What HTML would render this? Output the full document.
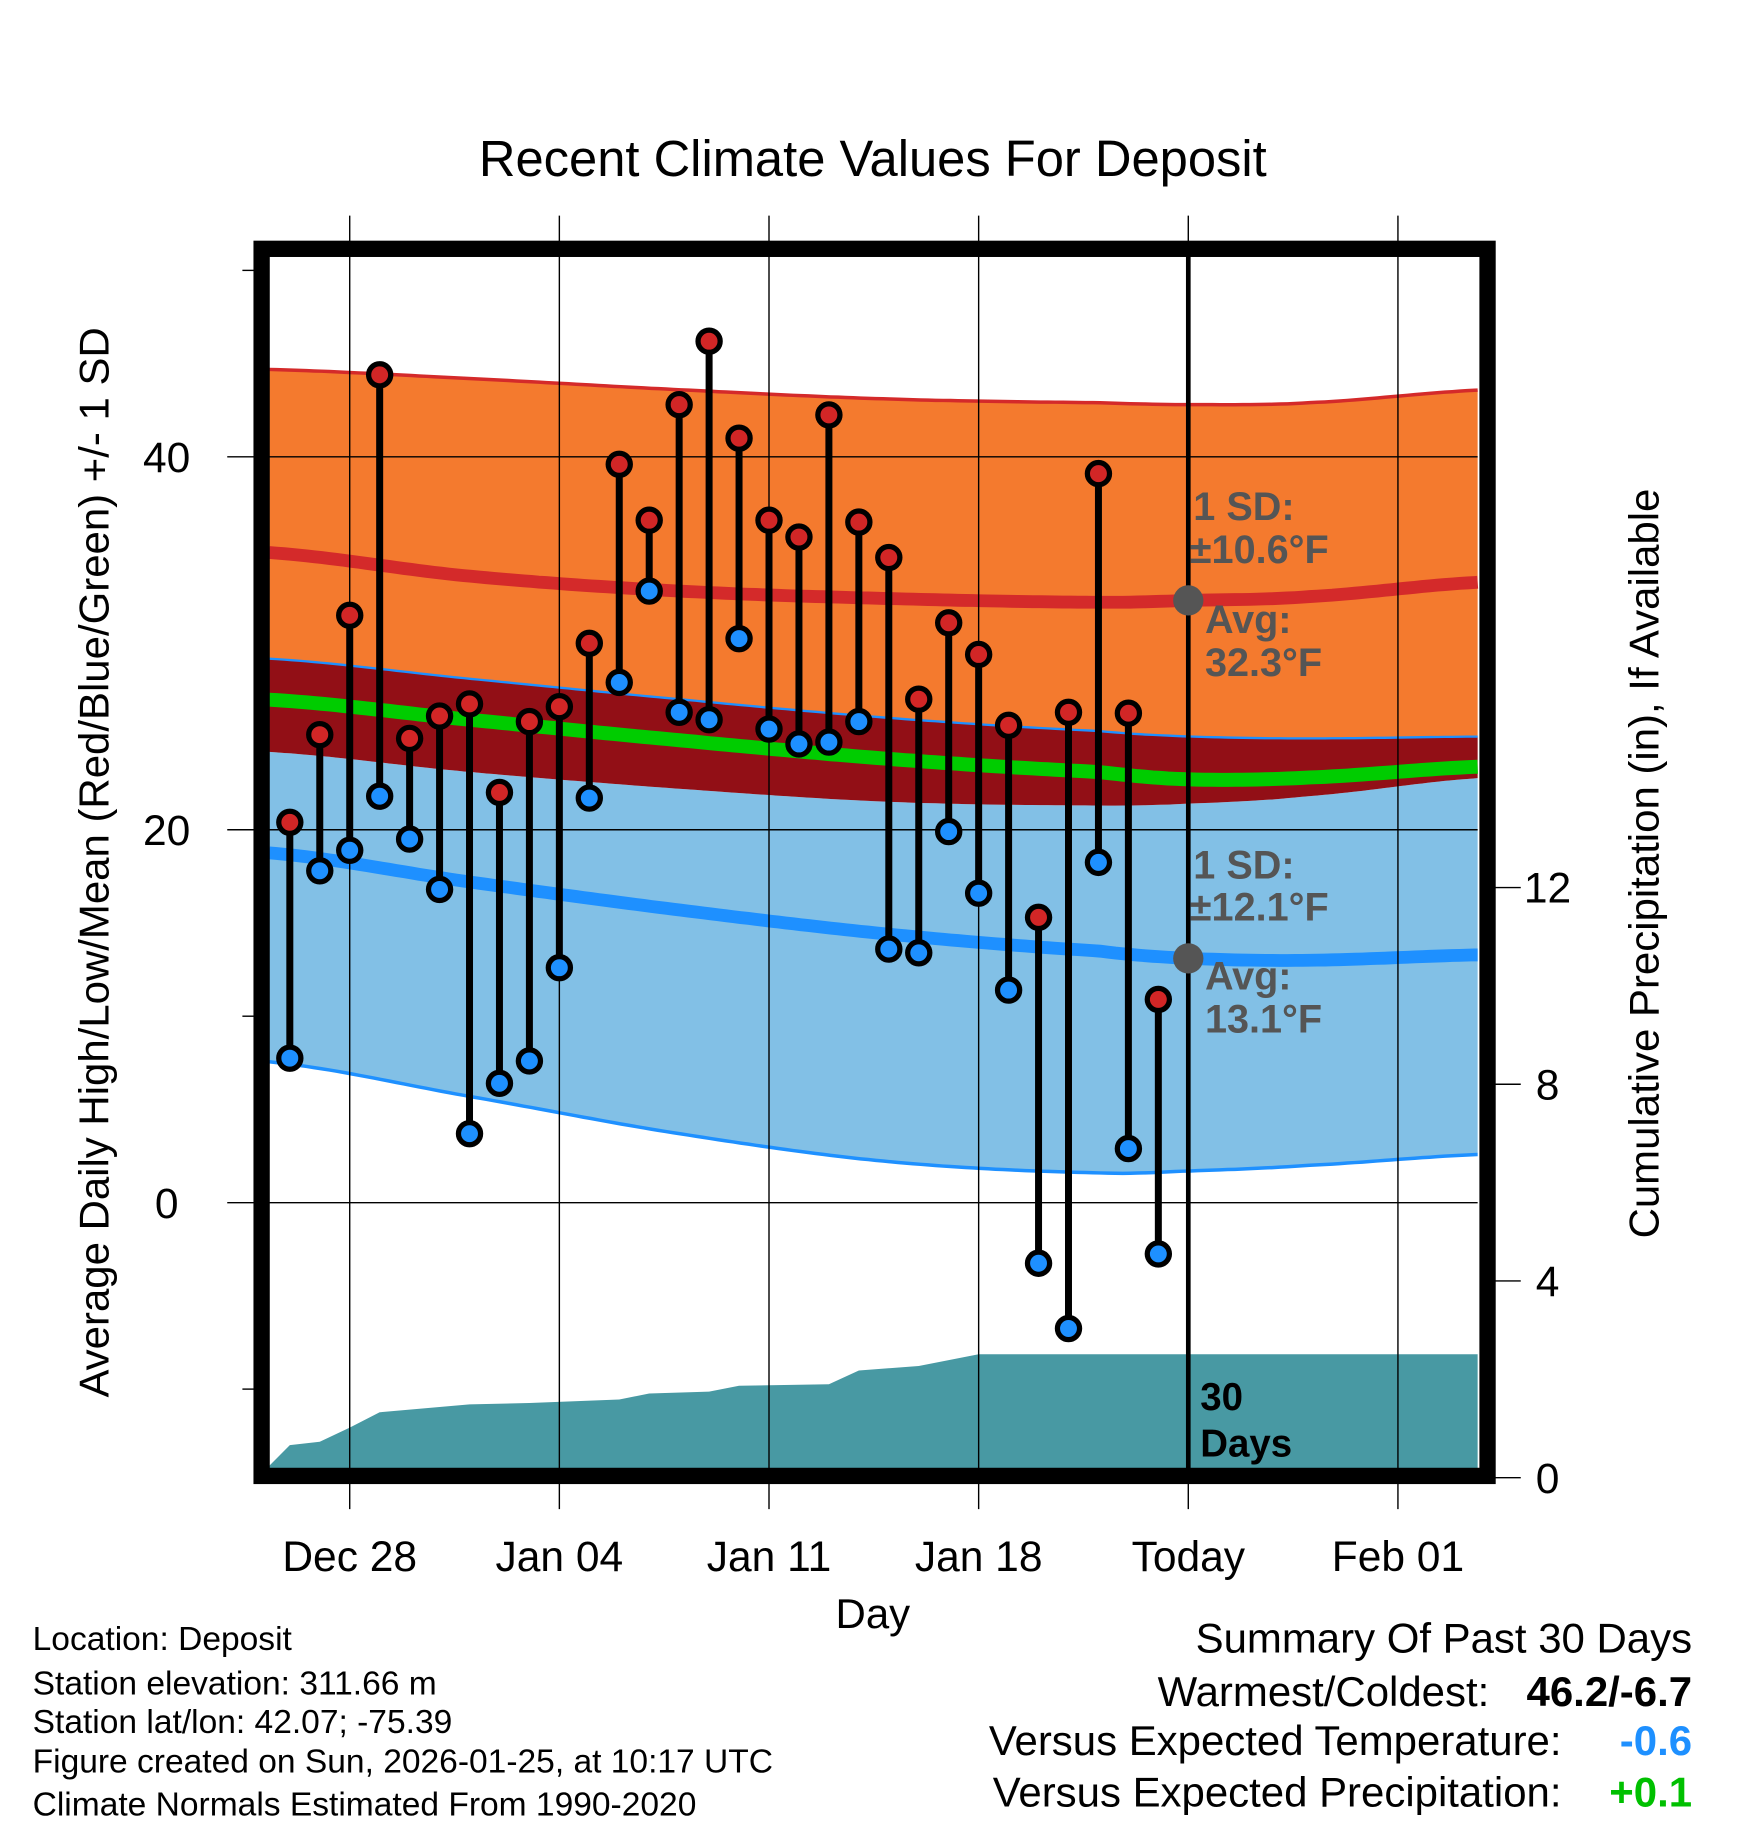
<!DOCTYPE html>
<html><head><meta charset="utf-8">
<style>
html,body{margin:0;padding:0;background:#fff;}
svg{display:block;font-family:"Liberation Sans",Arial,sans-serif;}
</style></head>
<body>
<svg id="chart" width="1748" height="1828" viewBox="0 0 1500 1568.6" xmlns="http://www.w3.org/2000/svg">
<text x="749" y="151" font-size="43.5" text-anchor="middle">Recent Climate Values For Deposit</text>
<g id="bands"></g>
<g id="grid"></g>
<g id="marks"></g>
<g id="annot" font-weight="bold" font-size="34" fill="#555">
<text x="1024" y="446">1 SD:</text>
<text x="1021" y="483">±10.6°F</text>
<text x="1034" y="543">Avg:</text>
<text x="1034" y="580">32.3°F</text>
<text x="1024" y="754">1 SD:</text>
<text x="1021" y="790">±12.1°F</text>
<text x="1034" y="849">Avg:</text>
<text x="1034" y="886">13.1°F</text>
</g>
<text x="1030" y="1210" font-size="33" font-weight="bold">30</text>
<text x="1030" y="1250" font-size="33" font-weight="bold">Days</text>
<rect x="224.5" y="213.5" width="1052" height="1053" fill="none" stroke="#000" stroke-width="14"/>
<g id="axes" font-size="36.5"></g>
<text x="749" y="1397" font-size="36" text-anchor="middle">Day</text>
<text transform="translate(93,740) rotate(-90)" font-size="36" text-anchor="middle">Average Daily High/Low/Mean (Red/Blue/Green) +/- 1 SD</text>
<text transform="translate(1423,741) rotate(-90)" font-size="36" text-anchor="middle">Cumulative Precipitation (in), If Available</text>
<g font-size="28.8">
<text x="28" y="1416">Location: Deposit</text>
<text x="28" y="1454">Station elevation: 311.66 m</text>
<text x="28" y="1487">Station lat/lon: 42.07; -75.39</text>
<text x="28" y="1521">Figure created on Sun, 2026-01-25, at 10:17 UTC</text>
<text x="28" y="1558">Climate Normals Estimated From 1990-2020</text>
</g>
<g font-size="36">
<text x="1452" y="1418" text-anchor="end">Summary Of Past 30 Days</text>
<text x="1278" y="1464" text-anchor="end">Warmest/Coldest:</text>
<text x="1452" y="1464" text-anchor="end" font-weight="bold">46.2/-6.7</text>
<text x="1340" y="1506" text-anchor="end">Versus Expected Temperature:</text>
<text x="1452" y="1506" text-anchor="end" font-weight="bold" fill="#1e90ff">-0.6</text>
<text x="1340" y="1550" text-anchor="end">Versus Expected Precipitation:</text>
<text x="1452" y="1550" text-anchor="end" font-weight="bold" fill="#00c000">+0.1</text>
</g>
</svg>
<script>
// daily observations, Dec 26 .. Jan 24
var obsDays = [1,2,3,4,5,6,7,8,9,10,11,12,13,14,15,16,17,18,19,20,21,22,23,24,25,26,27,28,29,30];
var highs = [20.4,25.1,31.5,44.4,24.9,26.1,26.75,22,25.8,26.6,30,39.6,36.6,42.8,46.2,41,36.6,35.7,42.25,36.5,34.6,27,31.1,29.4,25.6,15.3,26.3,39.1,26.25,10.9];
var lows = [7.75,17.8,18.9,21.8,19.5,16.8,3.7,6.4,7.6,12.6,21.7,27.9,32.8,26.3,25.9,30.25,25.4,24.6,24.7,25.8,13.6,13.4,19.9,16.6,11.4,-3.25,-6.75,18.25,2.9,-2.75];
// normals sampled at day offsets from Dec 25
var normDays = [0,7,14,21,28,31,35,41];
var hiUpper = [44.7,44.2,43.6,43.1,42.9,42.8,42.9,43.6];
var hiMean = [34.9,33.6,32.8,32.4,32.2,32.3,32.5,33.3];
var hiLower = [29.2,28.1,27.0,26.0,25.3,25.0,24.9,25.0];
var avgMean = [27.0,25.9,24.8,23.8,23.1,22.7,22.8,23.4];
var loUpper = [24.2,23.1,22.2,21.5,21.3,21.4,21.8,22.8];
var loMean = [18.8,17.2,15.7,14.4,13.5,13.1,13.0,13.3];
var loLower = [7.6,5.7,3.7,2.2,1.6,1.7,2.0,2.6];
// cumulative precipitation
var precipDays = [0.31,1,2,3,4,7,9,12,13,15,16,19,20,22,24,41];
var precipVals = [0.24,0.66,0.73,1.02,1.33,1.49,1.52,1.59,1.71,1.75,1.87,1.90,2.18,2.27,2.51,2.51];
var xTickDays = [3,10,17,24,31,38];
var xTickLabels = ["Dec 28","Jan 04","Jan 11","Jan 18","Today","Feb 01"];
var yTicks = [0,20,40];
var yMinor = [-10,10,50];
var y2Ticks = [0,4,8,12];

var NS="http://www.w3.org/2000/svg";
var X0=231,X1=1268,Y0=220,Y1=1260;
function x(d){return 223+25.7*d;}
function y(v){return 1032-16*v;}
function y2(p){return 1268-42.2*p;}
function mk(tag,attrs,parent){var e=document.createElementNS(NS,tag);for(var k in attrs)e.setAttribute(k,attrs[k]);parent.appendChild(e);return e;}
function interp(arr,d){
  for(var i=0;i<normDays.length-1;i++){
    if(d<=normDays[i+1]){
      var t=(d-normDays[i])/(normDays[i+1]-normDays[i]);
      var p0=arr[Math.max(i-1,0)],p1=arr[i],p2=arr[i+1],p3=arr[Math.min(i+2,arr.length-1)];
      var t2=t*t,t3=t2*t;
      return 0.5*((2*p1)+(-p0+p2)*t+(2*p0-5*p1+4*p2-p3)*t2+(-p0+3*p1-3*p2+p3)*t3);
    }
  }
  return arr[arr.length-1];
}
function curve(arr){var pts=[];for(var d=0.31;d<=40.66;d+=0.25){pts.push([x(d),y(interp(arr,d))]);}pts.push([X1,y(interp(arr,40.66))]);return pts;}
function band(up,lo){var a=curve(up),b=curve(lo).reverse();return a.concat(b).map(function(p){return p[0].toFixed(1)+","+p[1].toFixed(1);}).join(" ");}
function line(arr){return curve(arr).map(function(p){return p[0].toFixed(1)+","+p[1].toFixed(1);}).join(" ");}
var bands=document.getElementById('bands');
var e;
e=mk('polygon',{points:band(hiUpper,hiLower),fill:'#f47a2e'},bands);


e=mk('polygon',{points:band(loUpper,loLower),fill:'#82c0e6'},bands);


e=mk('polygon',{points:band(hiLower,loUpper),fill:'#920f16'},bands);


e=mk('polyline',{points:line(hiUpper),fill:'none',stroke:'#d42a2a','stroke-width':3},bands);


e=mk('polyline',{points:line(hiLower),fill:'none',stroke:'#1e90ff','stroke-width':2},bands);


e=mk('polyline',{points:line(loLower),fill:'none',stroke:'#1e90ff','stroke-width':3},bands);


e=mk('polyline',{points:line(hiMean),fill:'none',stroke:'#d42a2a','stroke-width':11},bands);


e=mk('polyline',{points:line(avgMean),fill:'none',stroke:'#00cc00','stroke-width':12},bands);


e=mk('polyline',{points:line(loMean),fill:'none',stroke:'#1e90ff','stroke-width':11},bands);


var pp=[[precipDays[0],0]];
for(var i=0;i<precipDays.length;i++)pp.push([precipDays[i],precipVals[i]]);
pp.push([41,precipVals[precipVals.length-1]]);pp.push([41,0]);
var ptsStr=pp.map(function(p){return Math.min(Math.max(x(p[0]),X0),X1).toFixed(1)+","+Math.min(y2(p[1]),Y1).toFixed(1);}).join(" ");
e=mk('polygon',{points:ptsStr,fill:'#4899a3'},bands);


var grid=document.getElementById('grid');
xTickDays.forEach(function(d){
  e=mk('line',{x1:x(d),x2:x(d),y1:185,y2:1295,stroke:'#000','stroke-width':1.2},grid);
  
  
});
yTicks.forEach(function(v){
  e=mk('line',{x1:195,x2:X1,y1:y(v),y2:y(v),stroke:'#000','stroke-width':1.2},grid);
  
  
});
yMinor.forEach(function(v){
  e=mk('line',{x1:208,x2:218,y1:y(v),y2:y(v),stroke:'#000','stroke-width':1.2},grid);
  
  
});
e=mk('line',{x1:x(31),x2:x(31),y1:Y0,y2:Y1,stroke:'#000','stroke-width':4},grid);


var marks=document.getElementById('marks');
for(var i=0;i<obsDays.length;i++){
  var cx=x(obsDays[i]);
  e=mk('line',{x1:cx,x2:cx,y1:y(highs[i]),y2:y(lows[i]),stroke:'#000','stroke-width':6},marks);
  
  
  e=mk('circle',{cx:cx,cy:y(highs[i]),r:9.5,fill:'#d22626',stroke:'#000','stroke-width':4.5},marks);
  
  
  e=mk('circle',{cx:cx,cy:y(lows[i]),r:9.5,fill:'#1e90ff',stroke:'#000','stroke-width':4.5},marks);
  
  
}
e=mk('circle',{cx:x(31),cy:y(hiMean[5]),r:13,fill:'#555'},marks);


e=mk('circle',{cx:x(31),cy:y(loMean[5]),r:13,fill:'#555'},marks);


var axes=document.getElementById('axes');
xTickDays.forEach(function(d,i){
  e=mk('text',{x:x(d),y:1348,'text-anchor':'middle'},axes);
  e.textContent=xTickLabels[i];
  
  
});
yTicks.forEach(function(v){
  e=mk('text',{x:143,y:y(v)+13,'text-anchor':'middle'},axes);
  e.textContent=String(v);
  
  
});
y2Ticks.forEach(function(p){
  e=mk('line',{x1:1283,x2:1305,y1:y2(p),y2:y2(p),stroke:'#000','stroke-width':1.2},axes);
  
  
  e=mk('text',{x:1328,y:y2(p)+13,'text-anchor':'middle'},axes);
  e.textContent=String(p);
  
  
});
</script>
</body></html>
